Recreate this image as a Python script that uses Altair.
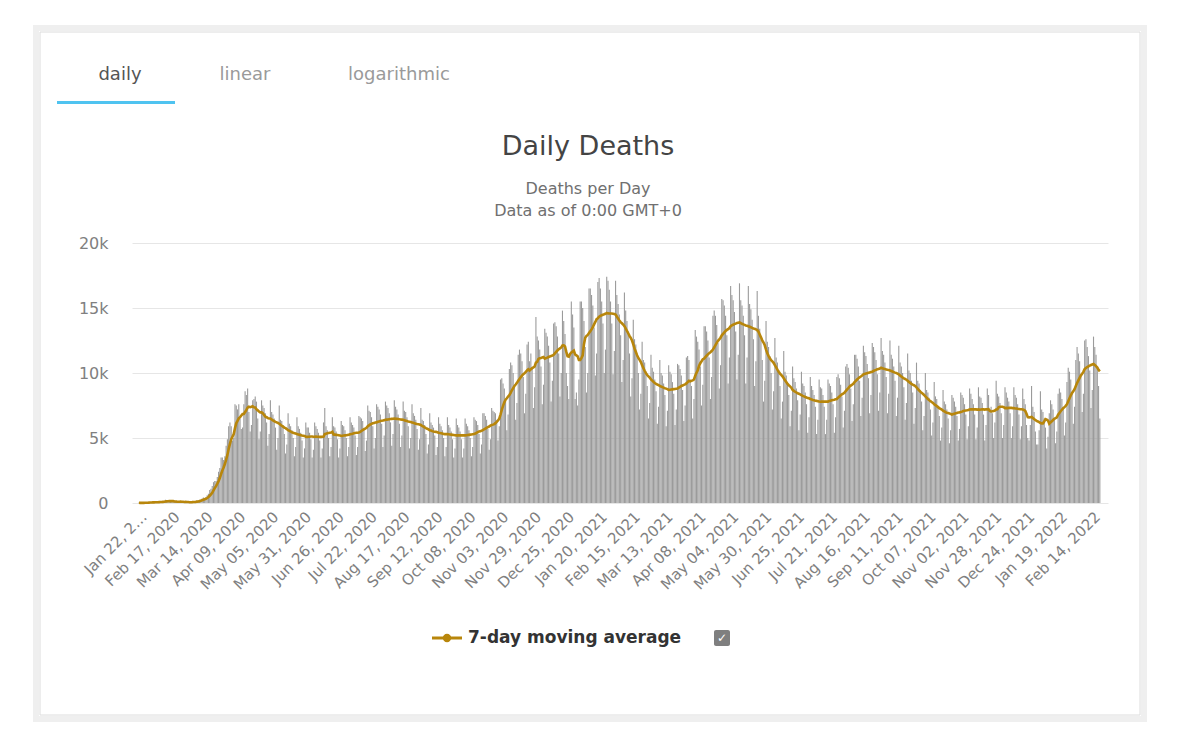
import altair as alt
import pandas as pd

# Daily deaths, thousands, one row per week (Wed..Tue), starting Jan 22, 2020
daily_deaths_k = [
    0.02, 0.0, 0.01, 0.02, 0.01, 0.03, 0.05,
    0.04, 0.04, 0.05, 0.05, 0.06, 0.06, 0.07,
    0.07, 0.07, 0.09, 0.09, 0.10, 0.10, 0.11,
    0.25, 0.15, 0.14, 0.14, 0.11, 0.10, 0.10,
    0.13, 0.12, 0.03, 0.10, 0.10, 0.15, 0.07,
    0.06, 0.04, 0.06, 0.07, 0.05, 0.07, 0.09,
    0.09, 0.10, 0.10, 0.11, 0.20, 0.16, 0.25,
    0.27, 0.35, 0.43, 0.35, 0.45, 0.60, 0.72,
    1.0, 1.1, 1.3, 1.6, 1.7, 1.7, 2.0,
    2.4, 2.7, 3.5, 3.5, 3.3, 3.6, 4.4,
    4.9, 5.9, 6.2, 5.9, 4.8, 5.0, 7.6,
    7.5, 7.2, 7.6, 6.5, 5.7, 5.8, 7.6,
    8.6, 8.3, 8.8, 7.0, 5.5, 6.0, 7.9,
    8.0, 8.2, 7.8, 6.5, 4.9, 5.5, 7.9,
    7.5, 7.3, 6.9, 6.2, 4.4, 5.3, 7.9,
    7.0, 6.8, 6.5, 5.8, 4.1, 5.0, 7.5,
    6.4, 6.3, 6.0, 5.3, 3.8, 4.5, 6.9,
    6.1, 5.9, 5.6, 5.0, 3.6, 4.3, 6.6,
    5.9, 5.7, 5.4, 4.8, 3.5, 4.2, 6.2,
    5.8, 5.8, 5.4, 4.9, 3.5, 4.1, 6.2,
    5.9, 5.7, 5.4, 4.8, 3.5, 4.2, 6.2,
    7.3, 5.9, 5.6, 5.0, 3.6, 4.3, 6.6,
    5.9, 5.8, 5.5, 4.9, 3.5, 4.2, 6.3,
    6.0, 5.9, 5.6, 5.0, 3.6, 4.3, 6.6,
    6.2, 6.0, 5.8, 5.2, 3.7, 4.3, 6.7,
    6.6, 6.5, 6.3, 5.6, 4.0, 4.8, 7.5,
    7.1, 7.0, 6.6, 5.9, 4.2, 5.0, 7.6,
    7.4, 7.2, 6.8, 6.1, 4.3, 5.2, 7.8,
    7.5, 7.3, 6.9, 6.2, 4.4, 5.3, 7.9,
    7.4, 7.2, 6.8, 6.1, 4.3, 5.2, 7.8,
    7.1, 7.0, 6.6, 5.9, 4.2, 5.0, 7.6,
    6.9, 6.7, 6.4, 5.7, 4.1, 4.9, 7.3,
    6.4, 6.3, 6.0, 5.3, 3.8, 4.5, 6.9,
    6.2, 6.0, 5.8, 5.2, 3.7, 4.3, 6.6,
    6.1, 5.9, 5.6, 5.0, 3.6, 4.3, 6.6,
    6.0, 5.8, 5.5, 4.9, 3.5, 4.2, 6.5,
    6.0, 5.8, 5.5, 4.9, 3.5, 4.2, 6.5,
    6.1, 5.9, 5.6, 5.0, 3.6, 4.3, 6.6,
    6.4, 6.3, 6.0, 5.3, 3.8, 4.5, 6.9,
    6.9, 6.7, 6.4, 5.7, 4.1, 4.9, 7.3,
    7.1, 7.0, 6.9, 6.4, 4.8, 5.9, 9.5,
    9.6, 9.2, 8.8, 7.8, 5.6, 6.8, 10.3,
    10.8, 10.6, 10.0, 8.9, 6.4, 7.7, 11.4,
    11.8, 11.5, 10.9, 9.7, 6.9, 8.4, 12.2,
    12.4, 10.9, 11.5, 10.3, 7.3, 8.9, 14.3,
    12.8, 12.5, 11.8, 10.5, 7.6, 9.1, 13.4,
    13.1, 12.8, 12.1, 10.8, 7.8, 9.4, 13.8,
    13.9, 13.6, 12.8, 11.5, 8.2, 10.0, 14.8,
    14.0, 13.0, 10.0, 9.0, 8.0, 11.5, 15.5,
    14.5, 13.5, 8.0, 8.5, 7.5, 9.5, 15.5,
    15.5, 15.0, 14.0, 12.0, 8.5, 10.0, 16.5,
    16.5, 16.0, 15.2, 13.5, 9.8, 11.5, 17.0,
    17.3, 16.5, 15.5, 13.8, 10.0, 11.8, 17.4,
    17.1, 16.4, 15.5, 13.8, 9.9, 11.7, 17.1,
    16.0, 15.3, 14.5, 12.9, 9.3, 11.0, 16.2,
    14.8, 14.0, 13.2, 11.5, 8.2, 9.6, 14.1,
    12.6, 12.2, 11.4, 10.0, 7.2, 8.4, 12.4,
    11.0, 10.8, 10.1, 9.0, 6.5, 7.7, 11.4,
    10.4, 10.1, 9.5, 8.6, 6.1, 7.4, 11.0,
    10.0, 9.8, 9.2, 8.3, 5.9, 7.1, 10.6,
    10.1, 9.9, 9.3, 8.4, 6.0, 7.2, 10.7,
    10.6, 10.3, 9.8, 8.7, 6.3, 7.5, 11.2,
    11.3, 11.0, 9.5, 9.0, 6.5, 8.0, 13.3,
    12.8, 12.4, 11.8, 10.5, 7.5, 9.1, 13.6,
    13.6, 13.2, 12.5, 11.2, 8.0, 9.7, 14.4,
    14.8, 14.4, 13.7, 12.3, 8.8, 10.6, 15.7,
    15.6, 15.2, 14.4, 12.9, 9.2, 11.2, 16.7,
    16.0, 15.6, 14.7, 13.2, 9.5, 11.4, 16.9,
    15.6, 15.2, 14.4, 12.9, 9.2, 11.2, 16.7,
    15.3, 14.9, 14.1, 12.6, 9.0, 10.9, 16.3,
    14.4, 13.4, 12.6, 11.0, 7.8, 9.4, 14.0,
    12.4, 12.0, 11.3, 10.0, 7.2, 8.6, 12.7,
    11.2, 10.8, 10.2, 9.0, 6.5, 7.8, 11.7,
    10.1, 9.8, 9.2, 8.3, 5.9, 7.1, 10.5,
    9.6, 9.3, 8.8, 7.9, 5.6, 6.8, 10.1,
    9.2, 9.0, 8.5, 7.6, 5.4, 6.6, 9.7,
    9.0, 8.7, 8.3, 7.4, 5.3, 6.4, 9.5,
    8.9, 8.8, 8.3, 7.4, 5.3, 6.4, 9.5,
    9.2, 9.0, 8.5, 7.6, 5.4, 6.6, 9.7,
    9.9, 9.6, 9.1, 8.2, 5.8, 7.1, 10.5,
    10.7, 10.4, 9.9, 8.8, 6.3, 7.6, 11.4,
    11.4, 11.1, 10.5, 9.4, 6.7, 8.1, 12.1,
    11.6, 11.3, 10.7, 9.6, 6.9, 8.3, 12.3,
    12.0, 11.6, 11.0, 9.9, 7.1, 8.5, 12.7,
    11.7, 11.4, 10.8, 9.7, 6.9, 8.4, 12.5,
    11.4, 11.1, 10.5, 9.4, 6.7, 8.1, 12.1,
    10.8, 10.5, 10.0, 8.9, 6.4, 7.7, 11.5,
    10.2, 10.0, 9.4, 8.5, 6.1, 7.3, 10.8,
    9.4, 9.2, 8.7, 7.8, 5.6, 6.7, 10.0,
    8.7, 8.5, 8.1, 7.2, 5.2, 6.2, 9.3,
    8.2, 8.0, 7.5, 6.7, 4.8, 5.8, 8.7,
    7.8, 7.6, 7.2, 6.5, 4.6, 5.6, 8.3,
    8.1, 7.8, 7.4, 6.7, 4.8, 5.7, 8.5,
    8.3, 8.1, 7.6, 6.8, 4.9, 5.9, 8.8,
    8.4, 8.0, 7.6, 6.8, 4.9, 5.8, 8.9,
    8.2, 8.1, 7.7, 6.8, 4.8, 6.0, 8.8,
    8.3, 7.2, 7.4, 6.9, 5.0, 6.2, 9.4,
    8.4, 8.2, 7.7, 6.9, 5.0, 6.0, 8.9,
    8.5, 8.1, 7.8, 6.9, 5.0, 5.9, 8.9,
    8.3, 8.1, 7.6, 6.8, 4.9, 5.9, 8.8,
    8.0, 7.6, 6.0, 5.0, 4.8, 6.0, 9.0,
    7.4, 7.0, 5.5, 4.5, 4.5, 5.6, 8.6,
    7.2, 7.0, 6.5, 5.8, 4.2, 5.1, 6.9,
    7.9, 7.6, 7.2, 6.4, 4.6, 5.5, 8.4,
    8.8, 8.5, 8.0, 7.2, 5.2, 6.2, 9.3,
    10.4, 10.1, 9.5, 8.5, 6.1, 7.4, 11.0,
    12.0, 11.5, 10.9, 9.8, 7.0, 8.4, 12.5,
    12.6, 12.0, 11.3, 10.2, 7.3, 8.7, 12.8,
    12.0, 11.4, 10.5, 9.0, 6.5,
]
start_date = "2020-01-22"

tick_labels = [
    "Jan 22, 2020", "Feb 17, 2020", "Mar 14, 2020", "Apr 09, 2020", "May 05, 2020",
    "May 31, 2020", "Jun 26, 2020", "Jul 22, 2020", "Aug 17, 2020", "Sep 12, 2020",
    "Oct 08, 2020", "Nov 03, 2020", "Nov 29, 2020", "Dec 25, 2020", "Jan 20, 2021",
    "Feb 15, 2021", "Mar 13, 2021", "Apr 08, 2021", "May 04, 2021", "May 30, 2021",
    "Jun 25, 2021", "Jul 21, 2021", "Aug 16, 2021", "Sep 11, 2021", "Oct 07, 2021",
    "Nov 02, 2021", "Nov 28, 2021", "Dec 24, 2021", "Jan 19, 2022", "Feb 14, 2022",
]
y_ticks = [0, 5, 10, 15, 20]
tabs = ["daily", "linear", "logarithmic"]
title_text = "Daily Deaths"
subtitle_lines = ["Deaths per Day", "Data as of 0:00 GMT+0"]
legend_label = "7-day moving average"

LINE_COLOR = "#b8860b"
BAR_COLOR = "#9b9b9b"
FONT = "DejaVu Sans"

W, H = 976, 260

dates = pd.date_range(start_date, periods=len(daily_deaths_k), freq="D")
df = pd.DataFrame({"date": dates.strftime("%Y-%m-%d"), "deaths": daily_deaths_k})

DAY = 86400000
def ms(ts):
    return int(pd.Timestamp(ts).value // 10**6)

tick_ms = [ms(pd.to_datetime(t, format="%b %d, %Y")) for t in tick_labels]
x_domain = [ms(dates[0]) - int(1.5 * DAY), ms(dates[-1]) + int(2.5 * DAY)]

x_scale = alt.Scale(type="utc", domain=x_domain)
y_scale = alt.Scale(domain=[0, 20], nice=False)
x_axis = alt.Axis(
    values=tick_ms,
    labelExpr=("datum.index == 0 ? slice(utcFormat(datum.value, '%b %d, %Y'), 0, 9) + '\u2026'"
               " : utcFormat(datum.value, '%b %d, %Y')"),
    labelAngle=-45, labelAlign="right", labelBaseline="top",
    labelFont=FONT, labelFontSize=15, labelColor="#808080",
    labelPadding=6, labelOverlap=False, labelBound=False, labelFlush=False,
    grid=False, domain=False, ticks=False, title=None,
)
y_axis = alt.Axis(
    values=y_ticks,
    labelExpr="datum.value == 0 ? '0' : datum.value + 'k'",
    labelFont=FONT, labelFontSize=16, labelColor="#808080", labelPadding=24,
    grid=True, gridColor="#e6e6e6", gridWidth=1,
    domain=False, ticks=False, title=None,
)

bars = alt.Chart(df).mark_bar(width=1.1, color=BAR_COLOR).encode(
    x=alt.X("date:T", scale=x_scale, axis=x_axis),
    y=alt.Y("deaths:Q", scale=y_scale, axis=y_axis),
)

line = (
    alt.Chart(df)
    .transform_window(ma="mean(deaths)", frame=[-6, 0], sort=[alt.SortField("date")])
    .mark_line(color=LINE_COLOR, strokeWidth=2.6)
    .encode(
        x=alt.X("date:T", scale=x_scale, axis=x_axis),
        y=alt.Y("ma:Q", scale=y_scale, axis=y_axis),
    )
)

one = pd.DataFrame({"k": [0]})

def txt(s, x, y, size, color, weight="normal", align="center", font=FONT):
    return alt.Chart(one).mark_text(
        text=s, font=font, fontSize=size, color=color, fontWeight=weight,
        align=align, baseline="middle",
    ).encode(x=alt.value(x), y=alt.value(y))

def box(x, x2, y, y2, **kw):
    return alt.Chart(one).mark_rect(**kw).encode(
        x=alt.value(x), x2=alt.value(x2), y=alt.value(y), y2=alt.value(y2))

# soft page shadow + card outline (stroke only, so the grid stays visible)
shadow = box(-96, 1012, -215, 476, fill="transparent", stroke="#efefef", strokeWidth=6)
card = box(-92, 1008, -211, 472, fill="transparent", stroke="#dcdcdc", strokeWidth=1)

tab_layers = [
    txt(tabs[0], -12, -168, 18, "#555555"),
    txt(tabs[1], 113, -168, 18, "#9a9a9a"),
    txt(tabs[2], 267, -168, 18, "#9a9a9a"),
]
tab_line = box(-75, 43, -142, -139, fill="#4fc3f0", stroke="transparent")

title = txt(title_text, W / 2 - 32, -96, 27, "#444444")
sub1 = txt(subtitle_lines[0], W / 2 - 32, -54, 16, "#707070")
sub2 = txt(subtitle_lines[1], W / 2 - 32, -32, 16, "#707070")

leg_line = alt.Chart(one).mark_rule(color=LINE_COLOR, strokeWidth=3).encode(
    x=alt.value(300), x2=alt.value(330), y=alt.value(395))
leg_dot = alt.Chart(one).mark_circle(color=LINE_COLOR, opacity=1, size=70).encode(
    x=alt.value(315), y=alt.value(395))
leg_text = txt(legend_label, 336, 395, 17, "#333333", weight="bold", align="left")
chk = box(582, 598, 387, 403, fill="#7f7f7f", stroke="transparent", cornerRadius=2)
chk_mark = txt("\u2713", 590, 395, 12, "#ffffff", weight="bold")

chart = alt.layer(
    bars, line, shadow, card, *tab_layers, tab_line, title, sub1, sub2,
    leg_line, leg_dot, leg_text, chk, chk_mark,
).properties(
    width=W, height=H,
    background="#ffffff",
    autosize=alt.AutoSizeParams(type="none"),
    padding={"left": 124, "top": 235, "right": 50, "bottom": 222},
).configure_view(strokeWidth=0, stroke=None)

chart.save("out.html", embed_options={"renderer": "svg", "actions": False})
